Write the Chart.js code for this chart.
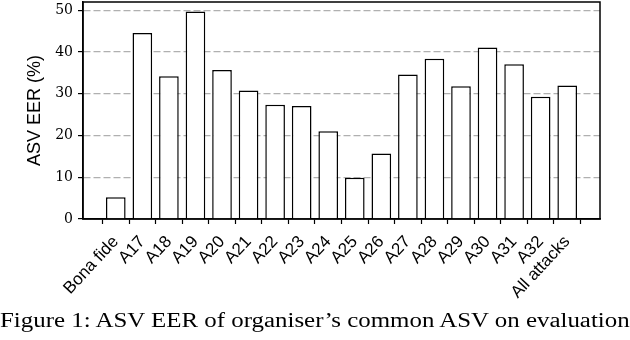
<!DOCTYPE html>
<html>
<head>
<meta charset="utf-8">
<script src="https://cdn.jsdelivr.net/npm/chart.js@4"></script>
<style>
  html, body { margin: 0; padding: 0; background: #fff; }
  #wrap { position: relative; width: 630px; height: 340px; overflow: hidden; }
  #caption {
    position: absolute; left: 0; top: 310px;
    font-family: "Liberation Serif", serif; font-size: 20px; line-height: 20px;
    white-space: nowrap; color: #000;
    transform: scaleX(1.245); transform-origin: 0 0;
  }
</style>
</head>
<body>
<div id="wrap">
  <canvas id="eerChart" width="630" height="340"></canvas>
  <div id="caption">Figure 1: ASV EER of organiser’s common ASV on evaluation</div>
</div>
<script>
// data
const labels = ['Bona fide', 'A17', 'A18', 'A19', 'A20', 'A21', 'A22', 'A23', 'A24',
  'A25', 'A26', 'A27', 'A28', 'A29', 'A30', 'A31', 'A32', 'All attacks'];
const eer = [5.2, 44.6, 34.2, 49.7, 35.7, 30.8, 27.4, 27.1, 21.0,
  9.9, 15.7, 34.6, 38.4, 31.8, 41.1, 37.1, 29.3, 32.0];
const yTicks = [0, 10, 20, 30, 40, 50];

// box around the plot area, like matplotlib's spines
const frame = {
  id: 'frame',
  afterDatasetsDraw(chart) {
    const a = chart.chartArea;
    const c = chart.ctx;
    c.save();
    c.strokeStyle = '#000';
    c.lineWidth = 1.5;
    c.strokeRect(a.left, a.top, a.right - a.left, a.bottom - a.top);
    c.restore();
  }
};

const ctx = document.getElementById('eerChart').getContext('2d');
new Chart(ctx, {
  type: 'bar',
  data: {
    datasets: [{
      data: eer.map((v, i) => ({ x: i, y: v })),
      backgroundColor: '#fff',
      borderColor: '#000',
      borderWidth: 1.5,
      barPercentage: 1,
      categoryPercentage: 0.74,
    }],
  },
  options: {
    responsive: false,
    animation: false,
    layout: { padding: { left: 0, top: 2, right: 30, bottom: 31 } },
    plugins: { legend: { display: false }, tooltip: { enabled: false } },
    scales: {
      x: {
        type: 'linear',
        offset: false,
        min: -1.235,
        max: 18.235,
        afterBuildTicks: (scale) => { scale.ticks = labels.map((_, i) => ({ value: i })); },
        afterFit: (scale) => { scale.height = 90; scale.paddingLeft = 0; scale.paddingRight = 0; },
        grid: { drawOnChartArea: false, drawTicks: true, tickLength: 5, tickColor: '#000', tickWidth: 1.2 },
        border: { color: '#000', width: 1.5 },
        ticks: {
          autoSkip: false,
          maxRotation: 47,
          minRotation: 47,
          padding: 8,
          color: '#000',
          font: { family: 'Liberation Sans', size: 17 },
          callback: (v) => labels[v],
        },
      },
      y: {
        min: 0,
        max: 52,
        afterBuildTicks: (scale) => { scale.ticks = yTicks.map(v => ({ value: v })); },
        afterFit: (scale) => { scale.width = 83; scale.paddingTop = 0; scale.paddingBottom = 0; },
        grid: { color: '#b0b0b0', lineWidth: 1.2, tickColor: '#000', tickLength: 5, tickWidth: 1.2, tickBorderDash: [] },
        border: { color: '#000', width: 1.5, dash: [7, 3] },
        ticks: {
          padding: 5,
          color: '#000',
          font: { family: 'DejaVu Serif', size: 14 },
        },
        title: {
          display: true,
          text: 'ASV EER (%)',
          color: '#000',
          font: { family: 'Liberation Sans', size: 18 },
          padding: { top: 24, bottom: 4 },
        },
      },
    },
  },
  plugins: [frame],
});
</script>
</body>
</html>
